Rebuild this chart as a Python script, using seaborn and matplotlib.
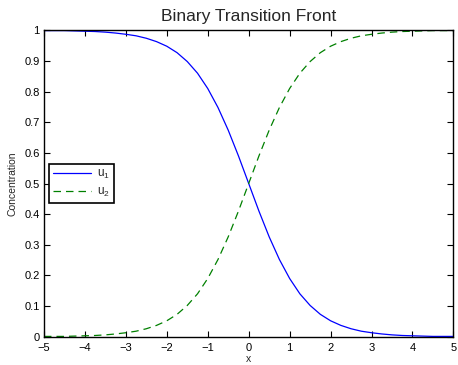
import matplotlib
matplotlib.use("Agg")
import matplotlib.pyplot as plt
import seaborn as sns
import pandas as pd

# Values
x_vals = [-5.0, -4.75, -4.5, -4.25, -4.0, -3.75, -3.5, -3.25, -3.0, -2.75, -2.5,
          -2.25, -2.0, -1.75, -1.5, -1.25, -1.0, -0.75, -0.5, -0.25, 0.0,
          0.25, 0.5, 0.75, 1.0, 1.25, 1.5, 1.75, 2.0, 2.25, 2.5,
          2.75, 3.0, 3.25, 3.5, 3.75, 4.0, 4.25, 4.5, 4.75, 5.0]
u1_vals = [0.999, 0.999, 0.999, 0.998, 0.997, 0.996, 0.994, 0.991, 0.987, 0.982, 0.974,
           0.963, 0.948, 0.927, 0.898, 0.860, 0.810, 0.748, 0.674, 0.590, 0.500,
           0.410, 0.326, 0.252, 0.190, 0.140, 0.102, 0.073, 0.052, 0.037, 0.026,
           0.018, 0.013, 0.009, 0.006, 0.004, 0.003, 0.002, 0.001, 0.001, 0.001]
u2_vals = [0.001, 0.001, 0.001, 0.002, 0.003, 0.004, 0.006, 0.009, 0.013, 0.018, 0.026,
           0.037, 0.052, 0.073, 0.102, 0.140, 0.190, 0.252, 0.326, 0.410, 0.500,
           0.590, 0.674, 0.748, 0.810, 0.860, 0.898, 0.927, 0.948, 0.963, 0.974,
           0.982, 0.987, 0.991, 0.994, 0.996, 0.997, 0.998, 0.999, 0.999, 0.999]
series_names = ["u$_1$", "u$_2$"]
x_ticks = [-5, -4, -3, -2, -1, 0, 1, 2, 3, 4, 5]
y_ticks = [0, 0.1, 0.2, 0.3, 0.4, 0.5, 0.6, 0.7, 0.8, 0.9, 1]
y_tick_labels = ["0", "0.1", "0.2", "0.3", "0.4", "0.5", "0.6", "0.7", "0.8", "0.9", "1"]
title = "Binary Transition Front"
x_label = "x"
y_label = "Concentration"

df = pd.DataFrame({
    "x": x_vals * 2,
    "value": u1_vals + u2_vals,
    "series": [series_names[0]] * len(x_vals) + [series_names[1]] * len(x_vals),
})

sns.set_style("ticks")
plt.rcParams["font.family"] = ["Liberation Sans", "DejaVu Sans"]
plt.rcParams["mathtext.default"] = "regular"

fig = plt.figure(figsize=(4.58, 3.65), dpi=100)
ax = fig.add_axes([0.096, 0.0775, 0.894, 0.8395])

sns.lineplot(data=df, x="x", y="value", hue="series", style="series",
             palette=["#0000ff", "#008000"], dashes=[(None, None), (6, 4)],
             linewidth=0.9, ax=ax, legend=True)

ax.set_xlim(-5, 5)
ax.set_ylim(0, 1)
ax.set_xticks(x_ticks)
ax.set_yticks(y_ticks)
ax.set_yticklabels(y_tick_labels)
ax.tick_params(direction="in", top=True, right=True, length=4, width=0.8,
               labelsize=8, colors="black")
ax.tick_params(axis="x", pad=4.5)
ax.tick_params(axis="y", pad=3)
for s in ax.spines.values():
    s.set_visible(True)
    s.set_color("black")
    s.set_linewidth(1.0)

ax.set_title(title, fontsize=12.5, pad=7)
ax.set_xlabel(x_label, fontsize=7.5, labelpad=1)
ax.set_ylabel(y_label, fontsize=7.5, labelpad=5)

handles, labels = ax.get_legend_handles_labels()
leg = ax.legend(handles, labels, loc="center left", bbox_to_anchor=(0.013, 0.5),
                frameon=True, fancybox=False, fontsize=8.5, handlelength=3.2,
                borderpad=0.35, labelspacing=0.45, handletextpad=0.5, borderaxespad=0)
leg.get_frame().set_edgecolor("black")
leg.get_frame().set_linewidth(1.2)
leg.get_frame().set_alpha(1)

fig.savefig("out.png", dpi=100)
